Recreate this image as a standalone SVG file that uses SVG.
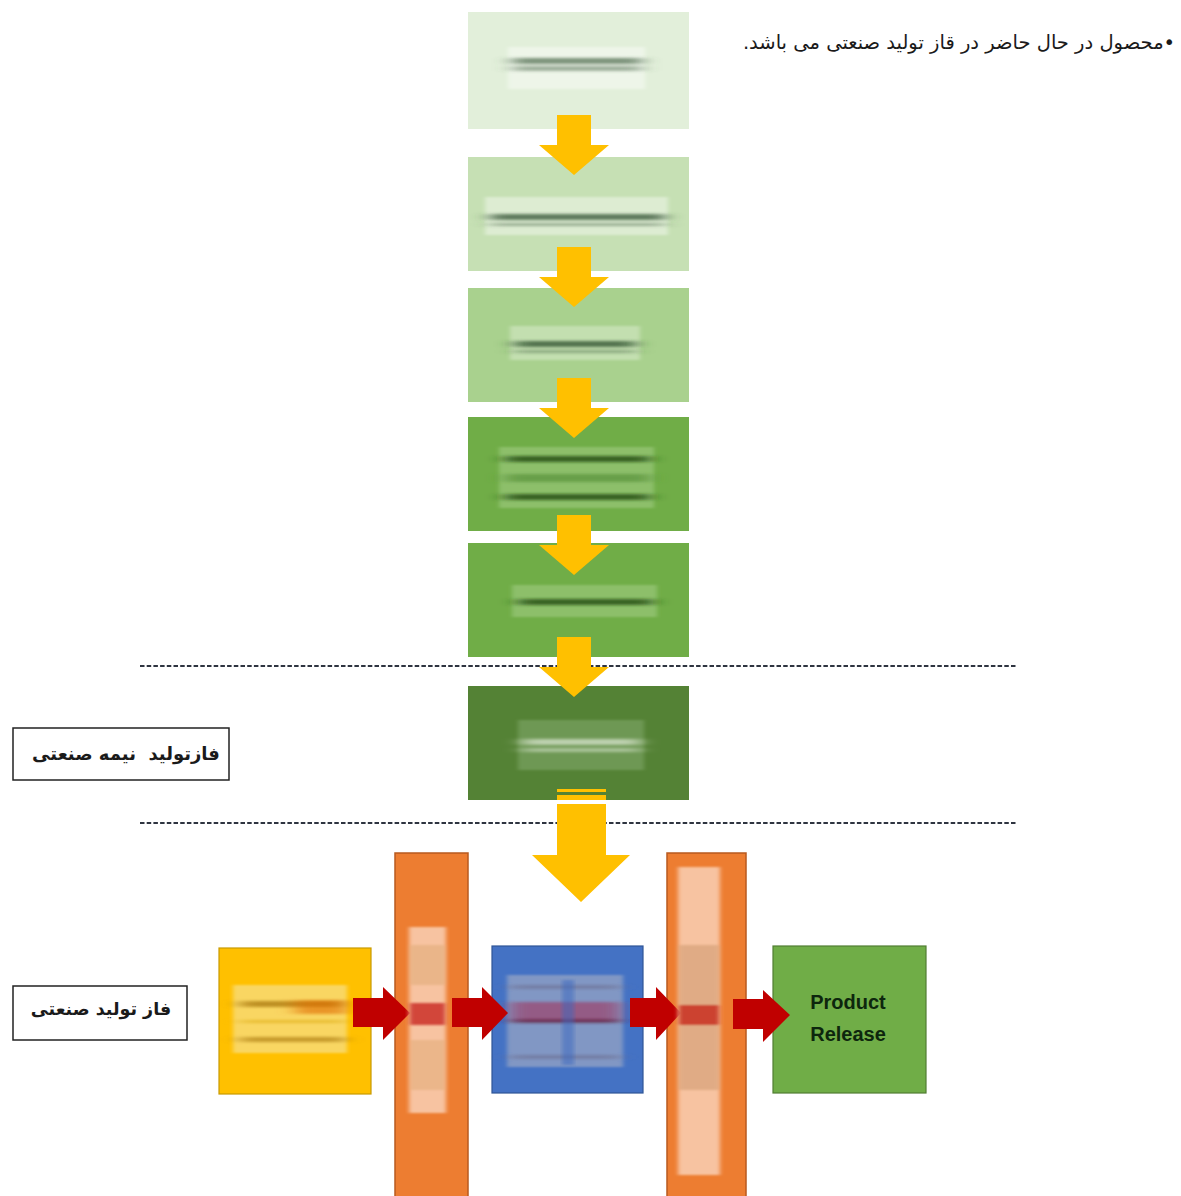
<svg xmlns="http://www.w3.org/2000/svg" width="1181" height="1196" viewBox="0 0 1181 1196">
<style>
.fa{font-family:"DejaVu Sans","Noto Sans",sans-serif;fill:#1a1a1a;direction:rtl;white-space:pre}
.lbl{font-weight:bold}
.pr{font-family:"Liberation Sans",Arial,sans-serif;font-weight:bold;font-size:20px;fill:#0d260d}
.yarr{fill:#ffc000}
.rarr{fill:#c00000}
.dash{stroke:#2e3440;stroke-width:2;stroke-dasharray:4.5 2.2;fill:none}
.orange{fill:#ed7d31;stroke:#b85a1f;stroke-width:1.5}
</style>
<defs>
<filter id="bh" x="-20%" y="-100%" width="140%" height="300%"><feGaussianBlur stdDeviation="9 1.6"/></filter>
<filter id="bs" x="-10%" y="-20%" width="120%" height="140%"><feGaussianBlur stdDeviation="2 1.2"/></filter>
</defs>
<rect width="1181" height="1196" fill="#ffffff"/>

<text class="fa" x="959" y="49" font-size="19.5" text-anchor="middle">•محصول در حال حاضر در قاز تولید صنعتی می باشد.</text>

<g id="dividers">
<line class="dash" x1="140" y1="666" x2="1017" y2="666"/>
<line class="dash" x1="140" y1="823" x2="1017" y2="823"/>
</g>

<g id="node1">
<rect x="468" y="12" width="221" height="117" fill="#e2efda"/>
<g filter="url(#bs)"><rect x="508" y="47" width="137" height="42" fill="#ffffff" opacity="0.4"/></g>
<g filter="url(#bh)"><rect x="512" y="58" width="130" height="6" fill="#4d6b4d" opacity="0.7"/><rect x="512" y="66" width="130" height="5" fill="#4d6b4d" opacity="0.5"/></g>
</g>
<g id="node2">
<rect x="468" y="157" width="221" height="114" fill="#c6e0b4"/>
<g filter="url(#bs)"><rect x="485" y="197" width="183" height="38" fill="#ffffff" opacity="0.4"/></g>
<g filter="url(#bh)"><rect x="490" y="214" width="175" height="6" fill="#3d5e3d" opacity="0.8"/><rect x="490" y="223" width="175" height="3" fill="#3d5e3d" opacity="0.45"/></g>
</g>
<g id="node3">
<rect x="468" y="288" width="221" height="114" fill="#a9d18e"/>
<g filter="url(#bs)"><rect x="510" y="326" width="130" height="34" fill="#ffffff" opacity="0.3"/></g>
<g filter="url(#bh)"><rect x="514" y="341" width="122" height="6" fill="#2f4f2f" opacity="0.75"/><rect x="514" y="350" width="122" height="3" fill="#2f4f2f" opacity="0.4"/></g>
</g>
<g id="node4">
<rect x="468" y="417" width="221" height="114" fill="#70ad47"/>
<g filter="url(#bs)"><rect x="499" y="447" width="155" height="61" fill="#a9d18e" opacity="0.5"/></g>
<g filter="url(#bh)"><rect x="505" y="456" width="145" height="6" fill="#1f4a14" opacity="0.8"/><rect x="505" y="494" width="145" height="6" fill="#1f4a14" opacity="0.8"/><rect x="505" y="474" width="145" height="8" fill="#4f8a32" opacity="0.6"/></g>
</g>
<g id="node5">
<rect x="468" y="543" width="221" height="114" fill="#70ad47"/>
<g filter="url(#bs)"><rect x="512" y="585" width="145" height="32" fill="#a9d18e" opacity="0.5"/></g>
<g filter="url(#bh)"><rect x="518" y="599" width="135" height="6" fill="#1f4a14" opacity="0.8"/></g>
</g>
<g id="node6">
<rect x="468" y="686" width="221" height="114" fill="#548235"/>
<g filter="url(#bs)"><rect x="518" y="720" width="126" height="50" fill="#8fb47a" opacity="0.45"/></g>
<g filter="url(#bh)"><rect x="522" y="739" width="118" height="6" fill="#e8f0e0" opacity="0.65"/><rect x="522" y="748" width="118" height="4" fill="#e8f0e0" opacity="0.5"/></g>
</g>

<g id="label-semi">
<rect x="13" y="728" width="216" height="52" fill="#ffffff" stroke="#222" stroke-width="1.5"/>
<text class="fa lbl" x="126" y="760" font-size="18" text-anchor="middle">فازتولید  نیمه صنعتی</text>
</g>
<g id="label-industrial">
<rect x="13" y="986" width="174" height="54" fill="#ffffff" stroke="#222" stroke-width="1.5"/>
<text class="fa lbl" x="101" y="1015" font-size="17.5" text-anchor="middle">فاز تولید صنعتی</text>
</g>

<g id="node-yellow">
<rect x="219" y="948" width="152" height="146" fill="#ffc000" stroke="#c99a00" stroke-width="1.2"/>
<g filter="url(#bs)"><rect x="233" y="985" width="114" height="68" fill="#f7dc7a" opacity="0.8"/></g>
<g filter="url(#bh)"><rect x="240" y="1001" width="105" height="6" fill="#9c6a00" opacity="0.65"/><rect x="295" y="1000" width="52" height="14" fill="#e06a00" opacity="0.6"/><rect x="240" y="1037" width="105" height="5" fill="#9c6a00" opacity="0.55"/><rect x="240" y="1020" width="105" height="3" fill="#d8a400" opacity="0.5"/></g>
</g>

<g id="bar1">
<rect class="orange" x="395" y="853" width="73" height="350"/>
</g>
<g id="node-blue">
<rect x="492" y="946" width="151" height="147" fill="#4472c4" stroke="#2f5597" stroke-width="1.2"/>
<g filter="url(#bs)"><rect x="507" y="975" width="116" height="92" fill="#9aa6c4" opacity="0.7"/></g>
<g filter="url(#bh)"><rect x="510" y="1002" width="110" height="20" fill="#a0305a" opacity="0.6"/><rect x="510" y="1019" width="110" height="4" fill="#5a1a3a" opacity="0.65"/><rect x="510" y="985" width="110" height="4" fill="#6a6a8a" opacity="0.55"/><rect x="510" y="1055" width="110" height="4" fill="#6a6a8a" opacity="0.55"/></g>
<g filter="url(#bs)"><rect x="562" y="980" width="12" height="85" fill="#3a66c0" opacity="0.5"/></g>
</g>
<g id="bar2">
<rect class="orange" x="667" y="853" width="79" height="350"/>
</g>
<g id="node-release">
<rect x="773" y="946" width="153" height="147" fill="#70ad47" stroke="#507e32" stroke-width="1.2"/>
<text class="pr" x="848" y="1009" text-anchor="middle">Product</text>
<text class="pr" x="848" y="1041" text-anchor="middle">Release</text>
</g>

<g id="connectors">
<polygon class="yarr" points="557,115 591,115 591,145 609,145 574,175 539,145 557,145"/>
<polygon class="yarr" points="557,247 591,247 591,277 609,277 574,307 539,277 557,277"/>
<polygon class="yarr" points="557,378 591,378 591,408 609,408 574,438 539,408 557,408"/>
<polygon class="yarr" points="557,515 591,515 591,545 609,545 574,575 539,545 557,545"/>
<polygon class="yarr" points="557,637 591,637 591,667 609,667 574,697 539,667 557,667"/>
<rect x="557" y="789" width="49" height="3" class="yarr"/>
<rect x="557" y="795" width="49" height="5" class="yarr"/>
<polygon class="yarr" points="557,804 606,804 606,855 630,855 581,902 532,855 557,855"/>
<polygon class="rarr" points="353,998 383,998 383,987 410,1013 383,1040 383,1027 353,1027"/>
<polygon class="rarr" points="452,998 482,998 482,987 508,1013 482,1040 482,1027 452,1027"/>
<polygon class="rarr" points="630,998 656,998 656,987 681,1013 656,1040 656,1027 630,1027"/>
<polygon class="rarr" points="733,999 763,999 763,990 790,1015 763,1042 763,1029 733,1029"/>
</g>

<g id="bar1-content">
<g filter="url(#bs)"><rect x="409" y="927" width="37" height="186" fill="#f8cbad" opacity="0.9"/></g>
<g filter="url(#bs)"><rect x="410" y="945" width="35" height="40" fill="#d9a36a" opacity="0.45"/><rect x="410" y="1003" width="35" height="22" fill="#c8281e" opacity="0.8"/><rect x="410" y="1040" width="35" height="50" fill="#d9a36a" opacity="0.4"/></g>
</g>
<g id="bar2-content">
<g filter="url(#bs)"><rect x="678" y="867" width="42" height="308" fill="#f8cbad" opacity="0.9"/></g>
<g filter="url(#bs)"><rect x="679" y="945" width="40" height="145" fill="#c9946a" opacity="0.5"/><rect x="679" y="1005" width="40" height="20" fill="#c8281e" opacity="0.8"/></g>
</g>
</svg>
